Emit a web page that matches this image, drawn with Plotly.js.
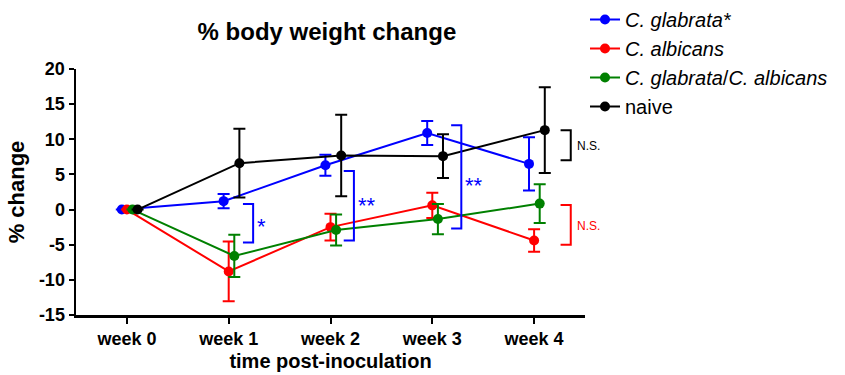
<!DOCTYPE html>
<html>
<head>
<meta charset="utf-8">
<script src="https://cdn.plot.ly/plotly-3.0.1.min.js"></script>
<style>html,body{margin:0;padding:0;background:#fff}#chart{width:845px;height:375px}</style>
</head>
<body>
<div id="chart"></div>
<script>
// ---- data ----
var weeks = ["week 0", "week 1", "week 2", "week 3", "week 4"];
var yTickVals = [-15, -10, -5, 0, 5, 10, 15, 20];
var yTickText = ["-15", "-10", "-5", "0", "5", "10", "15", "20"];
var seriesNames = ["<i>C. glabrata*</i>", "<i>C. albicans</i>", "<i>C. glabrata</i>/<i>C. albicans</i>", "naive"];
var glabrataMean = [0, 1.2, 6.3, 10.9, 6.5];
var glabrataErr  = [0, 1.0, 1.5, 1.7, 3.8];
var albicansMean = [0, -8.8, -2.5, 0.6, -4.4];
var albicansErr  = [0, 4.25, 1.9, 1.8, 1.6];
var mixedMean    = [0, -6.6, -2.9, -1.35, 0.85];
var mixedErr     = [0, 3.0, 2.2, 2.15, 2.75];
var naiveMean    = [0, 6.6, 7.7, 7.6, 11.3];
var naiveErr     = [0, 4.9, 5.8, 3.1, 6.1];

var FONT = "Liberation Sans, Arial, sans-serif";
var colors = ["#0000ff", "#ff0000", "#008000", "#000000"];
var offsets = [-0.05, 0, 0.055, 0.105];
var means = [glabrataMean, albicansMean, mixedMean, naiveMean];
var errs = [glabrataErr, albicansErr, mixedErr, naiveErr];

var idx = weeks.map(function (_, i) { return i; });
var traces = means.map(function (m, k) {
  return {
    type: "scatter",
    mode: "lines+markers",
    name: seriesNames[k],
    x: idx.map(function (i) { return i + offsets[k]; }),
    y: m,
    line: { color: colors[k], width: 2 },
    marker: { color: colors[k], size: 10 },
    error_y: { type: "data", array: errs[k], visible: true, color: colors[k], thickness: 2, width: 6 },
    cliponaxis: false
  };
});

function bracket(x, y0, y1, color) {
  return {
    type: "path", xref: "x", yref: "y",
    path: "M " + (x - 0.1) + " " + y0 + " L " + x + " " + y0 + " L " + x + " " + y1 + " L " + (x - 0.1) + " " + y1,
    line: { color: color, width: 2 }
  };
}

var shapes = [
  bracket(1.24, 0.8, -4.7, "#0000ff"),
  bracket(2.23, 5.5, -4.4, "#0000ff"),
  bracket(3.285, 12.0, -2.7, "#0000ff"),
  bracket(4.36, 11.3, 7.0, "#000000"),
  bracket(4.36, 0.65, -5.0, "#ff0000")
];

var annotations = [
  { xref: "x", x: 1.32, y: -2.4, text: "*", color: "#0000ff", size: 22, anchor: "center" },
  { xref: "x", x: 2.36, y: 0.6, text: "**", color: "#0000ff", size: 22, anchor: "center" },
  { xref: "x", x: 3.405, y: 3.4, text: "**", color: "#0000ff", size: 22, anchor: "center" },
  { xref: "paper", x: 0.98, y: 9.1, text: "N.S.", color: "#000000", size: 12, anchor: "left" },
  { xref: "paper", x: 0.98, y: -2.4, text: "N.S.", color: "#ff0000", size: 12, anchor: "left" }
].map(function (a) {
  return { x: a.x, y: a.y, xref: a.xref, yref: "y", text: a.text, showarrow: false,
           xanchor: a.anchor, yanchor: "middle",
           font: { family: FONT, size: a.size, color: a.color } };
});

var layout = {
  width: 845, height: 375,
  margin: { l: 76, r: 260, t: 69, b: 60, pad: 0, autoexpand: false },
  paper_bgcolor: "#fff", plot_bgcolor: "#fff",
  font: { family: FONT, color: "#000" },
  showlegend: true,
  title: { text: "<b>% body weight change</b>", font: { family: FONT, size: 24, color: "#000" },
           xref: "paper", x: 0.493, xanchor: "center", yref: "container", y: 0.915, yanchor: "middle" },
  xaxis: {
    range: [-0.5, 4.5], tickmode: "array", tickvals: idx, ticktext: weeks,
    showgrid: false, zeroline: false, showline: true, linecolor: "#000", linewidth: 2.5,
    ticks: "outside", ticklen: 6, tickwidth: 2, tickcolor: "#000",
    tickfont: { family: FONT, size: 18, color: "#000", weight: "bold" },
    title: { text: "<b>time post-inoculation</b>", font: { family: FONT, size: 20, color: "#000" }, standoff: 6 },
    automargin: false
  },
  yaxis: {
    range: [-15, 20], tickmode: "array", tickvals: yTickVals, ticktext: yTickText,
    showgrid: false, zeroline: false, showline: true, linecolor: "#000", linewidth: 2.5,
    ticks: "outside", ticklen: 5, tickwidth: 2, tickcolor: "#000",
    tickfont: { family: FONT, size: 18, color: "#000", weight: "bold" },
    title: { text: "<b>% change</b>", font: { family: FONT, size: 22, color: "#000" }, standoff: 8 },
    automargin: false
  },
  legend: {
    xref: "paper", x: 1.0, xanchor: "left",
    yref: "container", y: 1.0, yanchor: "top",
    font: { family: FONT, size: 20, color: "#000" },
    bgcolor: "rgba(0,0,0,0)", borderwidth: 0, tracegroupgap: 0
  },
  shapes: shapes,
  annotations: annotations
};

Plotly.newPlot("chart", traces, layout, { displayModeBar: false, staticPlot: true });
</script>
</body>
</html>
